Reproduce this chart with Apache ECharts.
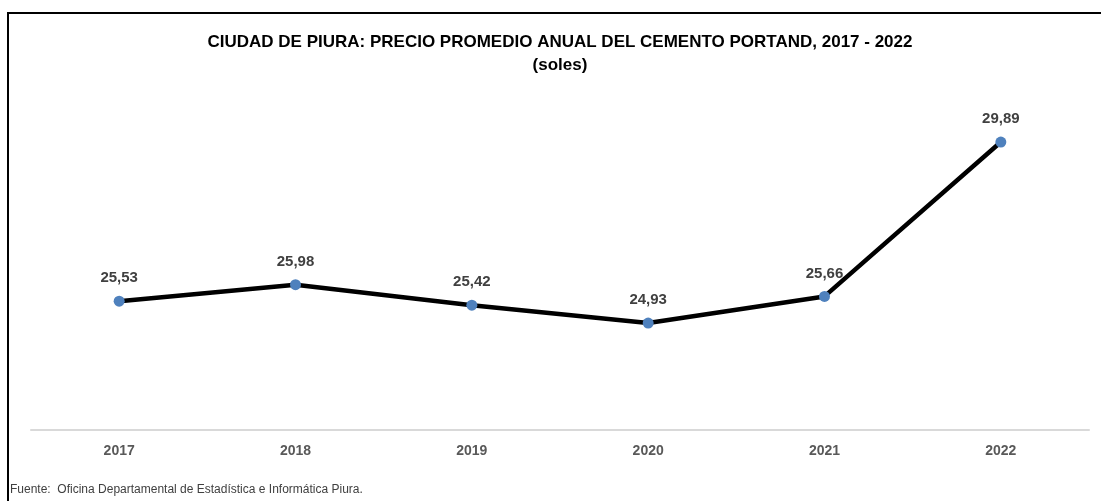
<!DOCTYPE html>
<html>
<head>
<meta charset="utf-8">
<script src="https://cdn.jsdelivr.net/npm/echarts@6/dist/echarts.min.js"></script>
<style>
  html, body { margin: 0; padding: 0; background: #fff; }
  #chart { width: 1101px; height: 501px; }
</style>
</head>
<body>
<div id="chart"></div>
<script>
// Precio promedio anual del cemento Portland en la ciudad de Piura (soles)
const years = ['2017', '2018', '2019', '2020', '2021', '2022'];
const prices = [25.53, 25.98, 25.42, 24.93, 25.66, 29.89];

const NARROW = '"Liberation Sans Narrow", "Arial Narrow", "Liberation Sans", Arial, sans-serif';

const chart = echarts.init(document.getElementById('chart'), null, { renderer: 'canvas' });

chart.setOption({
  backgroundColor: '#ffffff',
  animation: false,
  title: [
    {
      text: 'CIUDAD DE PIURA: PRECIO PROMEDIO ANUAL DEL CEMENTO PORTAND, 2017 - 2022',
      left: 560,
      textAlign: 'center',
      top: 34,
      padding: 0,
      textStyle: { fontFamily: NARROW, fontSize: 17, fontWeight: 'bold', color: '#000000' }
    },
    {
      text: '(soles)',
      left: 560,
      textAlign: 'center',
      top: 57,
      padding: 0,
      textStyle: { fontFamily: NARROW, fontSize: 17, fontWeight: 'bold', color: '#000000' }
    }
  ],
  graphic: [
    {
      type: 'rect',
      silent: true,
      shape: { x: 8, y: 13, width: 1300, height: 700 },
      style: { fill: 'none', stroke: '#000000', lineWidth: 2 }
    },
    {
      type: 'text',
      left: 10,
      top: 484,
      style: {
        text: 'Fuente:  Oficina Departamental de Estadística e Informática Piura.',
        fontFamily: NARROW,
        fontSize: 12,
        fill: '#404040'
      }
    }
  ],
  grid: { left: 31, right: 12, top: 65, bottom: 71, containLabel: false },
  xAxis: {
    type: 'category',
    data: years,
    boundaryGap: true,
    axisLine: { show: true, lineStyle: { color: '#d9d9d9', width: 2 } },
    axisTick: { show: false },
    axisLabel: {
      margin: 14,
      fontFamily: NARROW,
      fontSize: 14,
      fontWeight: 'bold',
      color: '#595959'
    },
    splitLine: { show: false }
  },
  yAxis: {
    type: 'value',
    min: 22,
    max: 32,
    interval: 2,
    show: false,
    splitLine: { show: false }
  },
  series: [
    {
      type: 'line',
      data: prices,
      symbol: 'circle',
      symbolSize: 11,
      lineStyle: { color: '#000000', width: 4.5 },
      itemStyle: { color: '#4f81bd' },
      label: {
        show: true,
        position: 'top',
        distance: 10,
        fontFamily: NARROW,
        fontSize: 15,
        fontWeight: 'bold',
        color: '#404040',
        formatter: p => p.value.toFixed(2).replace('.', ',')
      },
      z: 3
    }
  ]
});
</script>
</body>
</html>
